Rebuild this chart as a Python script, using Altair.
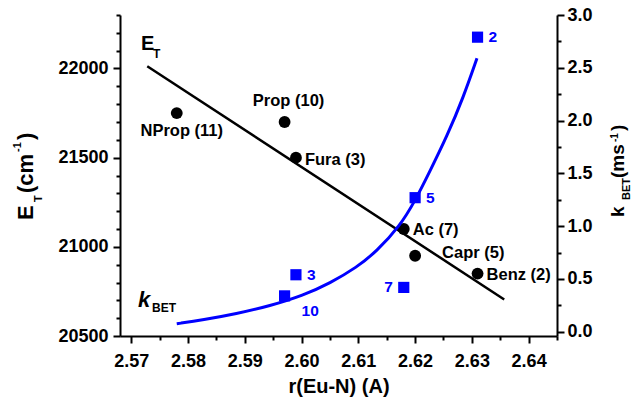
import altair as alt
import pandas as pd

FONT = "Liberation Sans"

# E_T data (black circles)
et_r = [2.578, 2.597, 2.599, 2.618, 2.620, 2.631]
et_val = [21750, 21700, 21500, 21100, 20950, 20850]
et_lab = ["NProp (11)", "Prop (10)", "Fura (3)", "Ac (7)", "Capr (5)", "Benz (2)"]

# linear fit of E_T (end points)
fit_r = [2.5728, 2.6357]
fit_e = [22013, 20705]

# k_BET data (blue squares)
k_r = [2.631, 2.620, 2.599, 2.597, 2.618]
k_val = [2.79, 1.27, 0.54, 0.34, 0.42]
k_lab = ["2", "5", "3", "10", "7"]

# k_BET fitted curve
curve_r = [2.578, 2.5826, 2.5885, 2.5944, 2.6003, 2.605, 2.6097, 2.6132,
           2.6173, 2.620, 2.6226, 2.6256, 2.6285, 2.6309]
curve_k = [0.076, 0.112, 0.170, 0.245, 0.345, 0.46, 0.61, 0.76,
           1.00, 1.24, 1.52, 1.85, 2.22, 2.59]

x_ticks = [round(2.57 + 0.005 * i, 3) for i in range(16)]
e_ticks = list(range(20500, 22301, 100))
k_ticks = [0.25 * i for i in range(13)]

e_df = pd.DataFrame({"r": et_r, "E": et_val, "name": et_lab})
fit_df = pd.DataFrame({"r": fit_r, "E": fit_e})
k_df = pd.DataFrame({"r": k_r, "k": k_val, "name": k_lab})
curve_df = pd.DataFrame({"r": curve_r, "k": curve_k})
ann_df = pd.DataFrame({"a": [0]})

common_axis = dict(
    grid=False, domainColor="black", domainWidth=2, tickColor="black", tickWidth=2,
    labelColor="black", labelFont=FONT, labelFontSize=18, labelFontWeight="bold",
    labelOverlap=False, labelBound=False, labelFlush=False,
)

x_major = "abs(round(datum.value*100) - datum.value*100) < 0.001"
xaxis = alt.Axis(
    values=x_ticks, format=".2f", orient="bottom",
    labelExpr=f"{x_major} ? datum.label : ''",
    tickSize={"condition": {"test": x_major, "value": 7}, "value": 4},
    labelPadding=9, title="r(Eu-N) (A)", titleFont=FONT, titleFontSize=20,
    titleFontWeight="bold", titleColor="black", titlePadding=6,
    **common_axis,
)
X = alt.X("r:Q", scale=alt.Scale(domain=[2.568, 2.645], nice=False, zero=False), axis=xaxis)

e_major = "datum.value % 500 === 0"
yaxis_e = alt.Axis(
    values=e_ticks, format="d", orient="left", title=None,
    labelExpr=f"{e_major} ? datum.label : ''",
    tickSize={"condition": {"test": e_major, "value": 7}, "value": 4},
    labelPadding=5, **common_axis,
)
YE = alt.Y("E:Q", scale=alt.Scale(domain=[20500, 22300], nice=False, zero=False), axis=yaxis_e)

k_major = "round(datum.value*2) === datum.value*2"
yaxis_k = alt.Axis(
    values=k_ticks, format=".1f", orient="right", title=None,
    labelExpr=f"{k_major} ? datum.label : ''",
    tickSize={"condition": {"test": k_major, "value": 7}, "value": 4},
    labelPadding=3, **common_axis,
)
YK = alt.Y("k:Q", scale=alt.Scale(domain=[-0.04, 3.0], nice=False, zero=False), axis=yaxis_k)

# ---- E_T layers
fit_line = alt.Chart(fit_df).mark_line(color="black", strokeWidth=2.5).encode(x=X, y=YE)
e_pts = alt.Chart(e_df).mark_point(shape="circle", filled=True, color="black",
                                   size=140, opacity=1).encode(x=X, y=YE)


def e_label(names, align, dx, dy):
    return alt.Chart(e_df).transform_filter(
        alt.FieldOneOfPredicate(field="name", oneOf=names)
    ).mark_text(align=align, baseline="alphabetic", dx=dx, dy=dy, font=FONT,
                fontSize=16.5, fontWeight="bold", color="black").encode(x=X, y=YE, text="name:N")


e_layer = alt.layer(
    fit_line, e_pts,
    e_label(["NProp (11)"], "center", 5, 23),
    e_label(["Prop (10)"], "center", 4, -16),
    e_label(["Fura (3)"], "left", 9, 7),
    e_label(["Ac (7)", "Benz (2)"], "left", 9, 6),
    e_label(["Capr (5)"], "left", 27, 2),
)

# ---- k_BET layers
BLUE = "#0000ff"
curve = alt.Chart(curve_df).mark_line(color=BLUE, strokeWidth=3,
                                      interpolate="basis").encode(x=X, y=YK)
k_pts = alt.Chart(k_df).mark_point(shape="square", filled=True, color=BLUE,
                                   size=125, opacity=1).encode(x=X, y=YK)


def k_label(names, align, dx, dy):
    return alt.Chart(k_df).transform_filter(
        alt.FieldOneOfPredicate(field="name", oneOf=names)
    ).mark_text(align=align, baseline="alphabetic", dx=dx, dy=dy, font=FONT,
                fontSize=15.5, fontWeight="bold", color=BLUE).encode(x=X, y=YK, text="name:N")


k_layer = alt.layer(
    curve, k_pts,
    k_label(["2", "5", "3"], "left", 11, 5),
    k_label(["10"], "left", 17, 20),
    k_label(["7"], "right", -11, 5),
)


# ---- rich-text annotations and axis titles
def txt(s, x, y, size, angle=0, italic=False):
    kw = dict(text=s, align="left", baseline="alphabetic", fontSize=size,
              fontWeight="bold", font=FONT, color="black",
              fontStyle="italic" if italic else "normal")
    if angle:
        kw["angle"] = angle
    return alt.Chart(ann_df).mark_text(**kw).encode(x=alt.value(x), y=alt.value(y))


annotations = [
    # E_T label in the plot
    txt("E", 21, 35, 20), txt("T", 33, 43, 12),
    # k_BET label in the plot
    txt("k", 18, 292, 22, italic=True), txt("BET", 32, 297, 12),
    # left axis title: E_T (cm^-1)
    txt("E", -87, 205, 22, 270), txt("T", -78, 187, 11, 270),
    txt("(cm", -87, 178, 22, 270), txt("-1", -99, 137, 11, 270),
    txt(")", -87, 125, 22, 270),
    # right axis title: k_BET (ms^-1)
    txt("k", 504, 202, 19, 270), txt("BET", 510, 185, 11, 270),
    txt("(ms", 504, 163, 19, 270), txt("-1", 498, 127, 10, 270),
    txt(")", 504, 116, 19, 270),
]

chart = alt.layer(e_layer, k_layer, *annotations).resolve_scale(
    y="independent"
).properties(
    width=437, height=321,
    autosize=alt.AutoSizeParams(type="none"),
    padding={"left": 120, "top": 15, "right": 74, "bottom": 63},
    background="white",
).configure_view(stroke=None)

chart.save("out.html", embed_options={"renderer": "svg", "actions": False})
